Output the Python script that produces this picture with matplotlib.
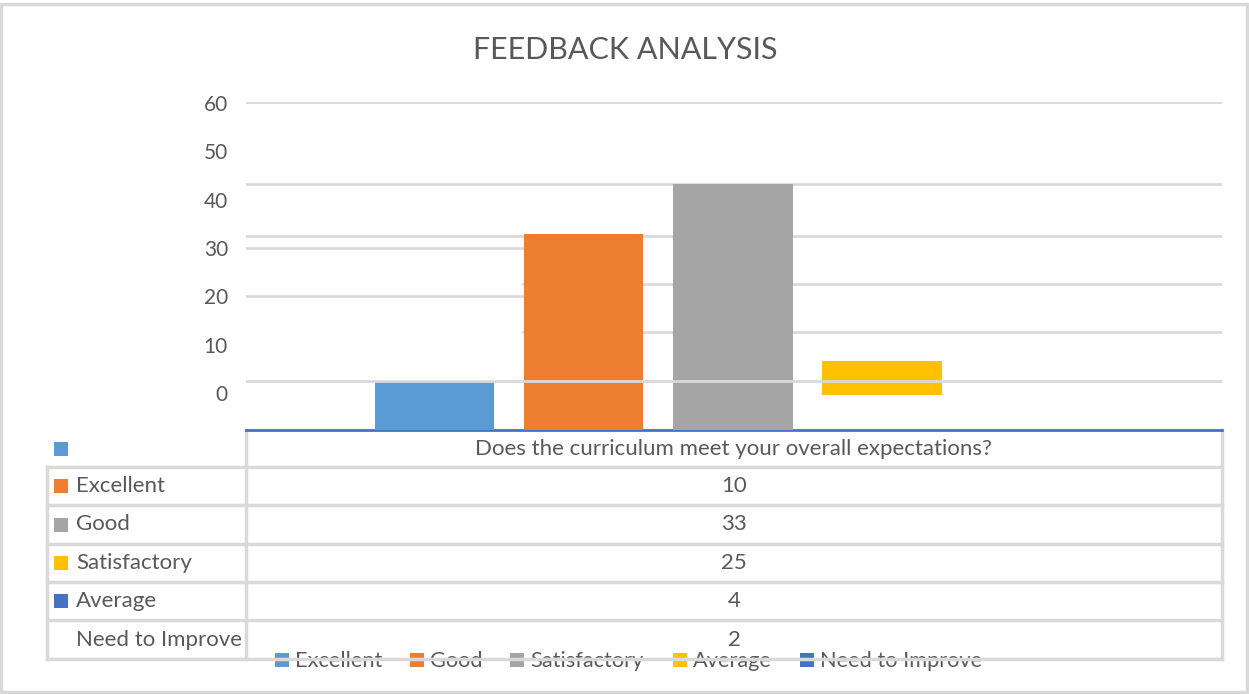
import matplotlib
matplotlib.use("Agg")
import matplotlib.pyplot as plt
from matplotlib.patches import Rectangle

plt.rcParams['font.family'] = ['Lato', 'DejaVu Sans']

# ---------------- data ----------------
title = "FEEDBACK ANALYSIS"
question = "Does the curriculum meet your overall expectations?"
categories = ["Excellent", "Good", "Satisfactory", "Average", "Need to Improve"]
counts = [10, 33, 25, 4, 2]
yticks = [0, 10, 20, 30, 40, 50, 60]
# bars as they are displayed in the (garbled) chart, read on the y-axis scale
bar_tops = [2.4, 32.9, 43.2, 6.6]
bar_bottoms = [-7.65, -7.65, -7.65, -0.4]
bar_colors = ["#5B9BD5", "#ED7D31", "#A5A5A5", "#FFC000"]
series_colors = ["#5B9BD5", "#ED7D31", "#A5A5A5", "#FFC000", "#4472C4"]
row_key_colors = ["#5B9BD5", "#ED7D31", "#A5A5A5", "#FFC000", "#4472C4", None]
row_labels = ["", "Excellent", "Good", "Satisfactory", "Average", "Need to Improve"]
# gridlines as displayed: (value, x-start fraction, x-end fraction)
grid_lines = [(60.2, 0, 1), (43.3, 0, 1), (32.5, 0, 1), (30.0, 0, 0.284),
              (20.0, 0, 0.284), (22.6, 0.284, 1), (12.6, 0.284, 1)]
grid_top_line = (2.55, 0, 1)

TXT = "#595959"
GRID = "#D9D9D9"
W, H = 1249, 694

fig = plt.figure(figsize=(W / 100, H / 100), dpi=100)

# overlay in pixel coordinates
ov = fig.add_axes([0, 0, 1, 1])
ov.set_xlim(0, W)
ov.set_ylim(H, 0)
ov.axis("off")

# main plot axes: x 246..1222 px, y 102..430 px
x0, x1, y0, y1 = 246, 1222, 102, 430
ax = fig.add_axes([x0 / W, 1 - y1 / H, (x1 - x0) / W, (y1 - y0) / H])
px_per_unit = 290 / 60.0
ax.set_ylim((393 - 430) / px_per_unit, (393 - 102) / px_per_unit)
spacing = 149.2
ax.set_xlim((x0 - 434.5) / spacing, (x1 - 434.5) / spacing)
for s in ax.spines.values():
    s.set_visible(False)
ax.set_xticks([])
ax.set_yticks(yticks)
ax.set_yticklabels([str(v) for v in yticks], fontsize=15, color=TXT)
ax.tick_params(axis="y", length=0, pad=13)
ax.patch.set_alpha(0)

for v, a, b in grid_lines:
    ax.axhline(v, a, b, color=GRID, lw=2, zorder=1)

xs = list(range(len(bar_tops)))
ax.bar(xs, [t - b for t, b in zip(bar_tops, bar_bottoms)], bottom=bar_bottoms,
       width=0.8, color=bar_colors, zorder=2)
v, a, b = grid_top_line
ax.axhline(v, a, b, color=GRID, lw=2, zorder=3)

# title
ov.text(625, 50, title, ha="center", va="center", fontsize=22, color=TXT)

# outer border
ov.add_patch(Rectangle((1, 3.5), 1246.5, 688, fill=False, ec=GRID, lw=2.5))

# table
row_y = [430, 467, 505, 544, 582, 620, 659]
tl, tm, tr = 47, 246, 1222
for i, yy in enumerate(row_y[1:]):
    ov.plot([tl, tr], [yy, yy], color=GRID, lw=2.5, zorder=5)
ov.plot([tm, tm], [row_y[0], row_y[-1]], color=GRID, lw=2.5, zorder=5)
ov.plot([tl, tl], [row_y[1], row_y[-1]], color=GRID, lw=2.5, zorder=5)
ov.plot([tr, tr], [row_y[0], row_y[-1]], color=GRID, lw=2.5, zorder=5)
# x axis line
ov.plot([tm, tr], [430, 430], color="#4472C4", lw=2, zorder=6)

cells = [question] + [str(c) for c in counts]
for i in range(6):
    ymid = (row_y[i] + row_y[i + 1]) / 2
    kc = row_key_colors[i]
    if kc is not None:
        ov.add_patch(Rectangle((54, ymid - 7), 14, 14, color=kc, lw=0, zorder=4))
    if row_labels[i]:
        ov.text(76, ymid, row_labels[i], ha="left", va="center",
                fontsize=16, color=TXT, zorder=4)
    ov.text(734, ymid, cells[i], ha="center", va="center",
            fontsize=16, color=TXT, zorder=4)

# bottom legend
leg_x = [275, 410, 510, 673, 800]
for x, lab, c in zip(leg_x, categories, series_colors):
    ov.add_patch(Rectangle((x, 653), 14, 14, color=c, lw=0, zorder=4))
    ov.text(x + 20, 661, lab, ha="left", va="center", fontsize=15.7,
            color=TXT, zorder=4)

fig.savefig("out.png", dpi=100)
